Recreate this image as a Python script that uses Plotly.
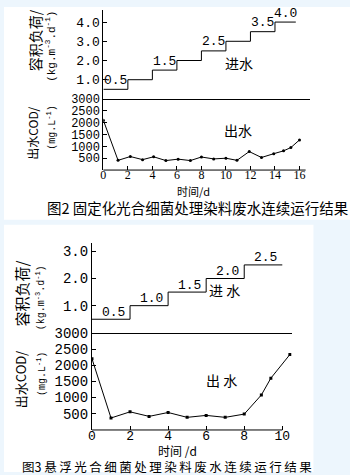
import plotly.graph_objects as go

W, H = 350, 475

# ---- Figure 2: immobilized photosynthetic bacteria ----
f2_load_days = [0, 2, 4, 6, 8, 10, 12, 14, 15.7]          # step edges (d)
f2_load = [0.5, 1.0, 1.5, 2.0, 2.5, 3.0, 3.5, 4.0]         # volumetric load
f2_labeled = [0, 2, 4, 6, 7]                               # steps carrying a value label
f2_days = [0, 1.2, 2.2, 3.2, 4.1, 5.1, 6.1, 7.1, 8.0, 9.0, 10.0, 10.9,
           11.9, 12.9, 13.9, 14.7, 15.3, 16.0]
f2_cod = [2100, 410, 570, 440, 560, 400, 460, 400, 550, 470, 500, 410,
          780, 530, 690, 810, 950, 1270]
f2_xticks = [0, 2, 4, 6, 8, 10, 12, 14, 16]
f2_load_ticks = [1, 2, 3, 4]
f2_cod_ticks = [500, 1000, 1500, 2000, 2500, 3000]

# ---- Figure 3: suspended photosynthetic bacteria ----
f3_load_days = [0, 2, 4, 6, 8, 10]
f3_load = [0.5, 1.0, 1.5, 2.0, 2.5]
f3_labeled = [0, 1, 2, 3, 4]
f3_days = [0, 1, 2, 3, 4, 5, 6, 7, 8, 8.9, 9.4, 10.4]
f3_cod = [2200, 370, 560, 420, 540, 390, 450, 390, 490, 1080, 1600, 2330]
f3_xticks = [0, 2, 4, 6, 8, 10]
f3_load_ticks = [1, 2, 3]
f3_cod_ticks = [500, 1000, 1500, 2000, 2500, 3000]


def px(x):
    return x / W


def py(y):
    return 1 - y / H


BLACK = "black"
BG = "#EDF6FD"
CJK = "Noto Sans CJK SC"
MONO = "Liberation Mono"

# panel geometry in pixels: (left, right, x-scale px/day)
f2_left, f2_right, f2_scale = 100.5, 310.0, 12.4
f2_top, f2_mid, f2_bot = 3.3, 93.3, 165.5
f2_load_top = (f2_mid - f2_top) / 19.5
f3_left, f3_right, f3_scale = 89.0, 291.0, 19.25
f3_top, f3_mid, f3_bot = 240.0, 330.7, 429.3
f3_load_top = (f3_mid - f3_top) / 27.57

fig = go.Figure()

line_style = dict(color=BLACK, width=1)

# step curves of the influent load
fig.add_trace(go.Scatter(x=f2_load_days, y=f2_load + [f2_load[-1]],
                         mode="lines", line=dict(shape="hv", **line_style),
                         xaxis="x2", yaxis="y2", showlegend=False))
fig.add_trace(go.Scatter(x=f3_load_days, y=f3_load + [f3_load[-1]],
                         mode="lines", line=dict(shape="hv", **line_style),
                         xaxis="x4", yaxis="y4", showlegend=False))

# effluent COD curves
fig.add_trace(go.Scatter(x=f2_days, y=f2_cod, mode="lines+markers",
                         line=line_style, marker=dict(size=3, color=BLACK),
                         xaxis="x", yaxis="y", showlegend=False))
fig.add_trace(go.Scatter(x=f3_days, y=f3_cod, mode="lines+markers",
                         line=line_style, marker=dict(size=3, color=BLACK, symbol="square"),
                         xaxis="x3", yaxis="y3", showlegend=False))


def xaxis(left, right, scale, anchor, ticks, font, show, standoff=0):
    ax = dict(domain=[px(left), px(right)], range=[0, (right - left) / scale],
              anchor=anchor, showgrid=False, zeroline=False, fixedrange=True)
    if show:
        ax.update(tickvals=ticks, ticks="inside", ticklen=4, tickcolor=BLACK,
                  tickwidth=1, showline=False, tickfont=font,
                  ticklabelstandoff=standoff)
    else:
        ax.update(showticklabels=False, ticks="", showline=True,
                  linecolor=BLACK, linewidth=1)
    return ax


def yaxis(top, bot, rng, anchor, ticks, font, fmt=None):
    ax = dict(domain=[py(bot), py(top)], range=rng, anchor=anchor,
              showgrid=False, zeroline=False, fixedrange=True,
              tickvals=ticks, ticks="inside", ticklen=4, tickcolor=BLACK,
              tickwidth=1, showline=True, linecolor=BLACK, linewidth=1,
              tickfont=font)
    if fmt:
        ax["tickformat"] = fmt
    return ax


fig.update_layout(
    width=W, height=H, autosize=False,
    margin=dict(l=0, r=0, t=0, b=0),
    paper_bgcolor=BG, plot_bgcolor="white",
    xaxis=xaxis(f2_left, f2_right, f2_scale, "y", f2_xticks,
                dict(family="Liberation Serif", size=12, color=BLACK), True, -4),
    yaxis=yaxis(f2_mid, f2_bot, [0, 3000], "x", f2_cod_ticks,
                dict(family=MONO, size=12, color=BLACK)),
    xaxis2=xaxis(f2_left, f2_right, f2_scale, "y2", None, None, False),
    yaxis2=yaxis(f2_top, f2_mid, [0, f2_load_top], "x2", f2_load_ticks,
                 dict(family=MONO, size=13, color=BLACK), ".1f"),
    xaxis3=xaxis(f3_left, f3_right, f3_scale, "y3", f3_xticks,
                 dict(family=MONO, size=13, color=BLACK), True, -4),
    yaxis3=yaxis(f3_mid, f3_bot, [0, 3000], "x3", f3_cod_ticks,
                 dict(family=MONO, size=14, color=BLACK)),
    xaxis4=xaxis(f3_left, f3_right, f3_scale, "y4", None, None, False),
    yaxis4=yaxis(f3_top, f3_mid, [0, f3_load_top], "x4", f3_load_ticks,
                 dict(family=MONO, size=14, color=BLACK), ".1f"),
)

# white figure areas and the time axes
shapes = [
    dict(type="rect", xref="paper", yref="paper", x0=0, x1=1, y0=py(216), y1=1,
         fillcolor="white", line=dict(width=0), layer="below"),
    dict(type="rect", xref="paper", yref="paper", x0=0, x1=px(313), y0=py(472), y1=py(221),
         fillcolor="white", line=dict(width=0), layer="below"),
    dict(type="line", xref="paper", yref="paper",
         x0=px(f2_left), x1=px(f2_left + 16.5 * f2_scale), y0=py(f2_bot), y1=py(f2_bot),
         line=dict(color=BLACK, width=1)),
    dict(type="line", xref="paper", yref="paper",
         x0=px(f3_left), x1=px(f3_left + 10 * f3_scale), y0=py(f3_bot), y1=py(f3_bot),
         line=dict(color=BLACK, width=1)),
]
fig.update_layout(shapes=shapes)

ann = []


def label(text, x, y, size, family=CJK, angle=0, xref="paper", yref="paper", yshift=0, xshift=0):
    ann.append(dict(text=text, x=x, y=y, xref=xref, yref=yref, showarrow=False,
                    xanchor="center", yanchor="middle", textangle=angle,
                    yshift=yshift, xshift=xshift,
                    font=dict(family=family, size=size, color=BLACK)))


# load values written on their steps
for i in f2_labeled:
    mid = (f2_load_days[i] + f2_load_days[i + 1]) / 2
    label(f"{f2_load[i]:.1f}", mid, f2_load[i], 13, MONO, xref="x2", yref="y2", yshift=9)
for i in f3_labeled:
    mid = (f3_load_days[i] + f3_load_days[i + 1]) / 2
    label(f"{f3_load[i]:.1f}", mid, f3_load[i], 13, MONO, xref="x4", yref="y4", yshift=7, xshift=2)

# Figure 2 texts
label("进水", px(238), py(57), 14)
label("出水", px(237), py(125), 14)
label("时间/d", px(192), py(187), 11)
label("容积负荷/", px(32), py(34), 14, angle=-90)
label("(kg.m<sup>-3</sup>.d<sup>-1</sup>)", px(48), py(40), 11, MONO, angle=-90)
label("出水COD/", px(28), py(128), 12, angle=-90)
label("(mg.L<sup>-1</sup>)", px(48), py(122), 10, MONO, angle=-90)
label("图2 固定化光合细菌处理染料废水连续运行结果", px(196), py(203), 14.5)

# Figure 3 texts
label("进 水", px(223), py(287), 14)
label("出 水", px(220), py(379), 14)
label("时间 /d", px(175), py(450), 12)
label("容积负荷/", px(18), py(291), 15, angle=-90)
label("(kg.m<sup>-3</sup>.d<sup>-1</sup>)", px(37), py(295), 10, MONO, angle=-90)
label("出水COD/", px(17), py(378), 13, angle=-90)
label("(mg.L<sup>-1</sup>)", px(38), py(373), 10, MONO, angle=-90)
cap3 = "图3 " + "\u2009".join("悬浮光合细菌处理染料废水连续运行结果")
label(cap3, px(164.5), py(466), 12.5)

fig.update_layout(annotations=ann)

fig.write_html("out.html")
